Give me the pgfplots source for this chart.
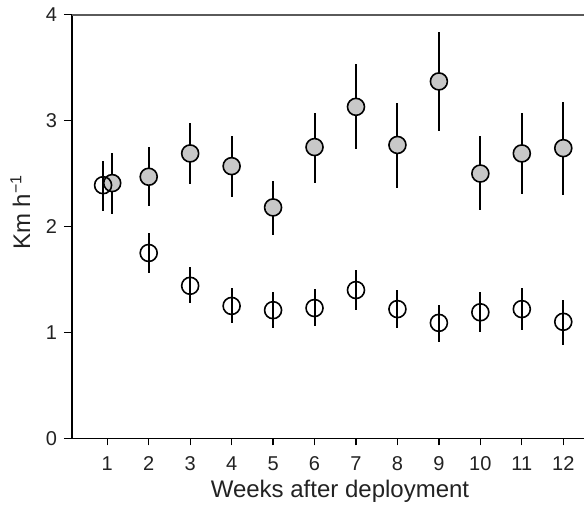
\documentclass[border=0pt]{standalone}
\usepackage{pgfplots}
\pgfplotsset{compat=1.18}
\usepackage{fontspec}
\setmainfont{Liberation Sans}
\definecolor{markfill}{HTML}{C8C8C8}
\definecolor{topline}{HTML}{5A5A5A}
\definecolor{txt}{HTML}{222222}

% week, mean, error plus, error minus
\pgfplotstableread{
x y ep em
1.12 2.41 0.28 0.29
2 2.47 0.28 0.28
3 2.69 0.29 0.29
4 2.57 0.28 0.29
5 2.18 0.25 0.26
6 2.75 0.32 0.34
7 3.13 0.40 0.40
8 2.77 0.40 0.41
9 3.37 0.47 0.47
10 2.50 0.35 0.34
11 2.69 0.38 0.38
12 2.74 0.44 0.44
}\grey
\pgfplotstableread{
x y ep em
0.9 2.39 0.23 0.24
2 1.75 0.19 0.19
3 1.44 0.18 0.16
4 1.25 0.17 0.16
5 1.21 0.17 0.17
6 1.23 0.18 0.17
7 1.40 0.19 0.19
8 1.22 0.18 0.18
9 1.09 0.17 0.18
10 1.19 0.19 0.19
11 1.22 0.20 0.20
12 1.10 0.21 0.22
}\open

\begin{document}
\begin{tikzpicture}
\useasboundingbox (-36pt,-35.35pt) rectangle (256pt,219.15pt);
\begin{axis}[
    scale only axis,
    width=256pt, height=211.8pt,
    xmin=0.15, xmax=12.5,
    ymin=0, ymax=4,
    axis x line=bottom, axis y line=left,
    axis line style={-, line width=0.6pt, black},
    xtick={1,...,12}, ytick={0,1,2,3,4},
    tick align=outside,
    major tick length=4pt,
    tick style={line width=0.6pt, black},
    x tick style={/pgfplots/major tick length=3.5pt},
    tick label style={font=\fontsize{10}{12}\selectfont, text=txt},
    /pgf/number format/assume math mode=true,
    xticklabel style={yshift=-1.5pt},
    xlabel={Weeks after deployment},
    ylabel={Km h\textsuperscript{−1}},
    label style={font=\fontsize{12}{14}\selectfont, text=txt},
    xlabel style={xshift=6pt, yshift=2pt},
    ylabel style={at={(ticklabel cs:0.534)}, yshift=1pt},
    clip=false,
]
\draw[topline, line width=1pt] (rel axis cs:0,1) -- (rel axis cs:1,1);
\addplot[only marks, mark=*, mark size=4.25pt,
    mark options={fill=markfill, draw=black, line width=0.8pt}]
    table[x=x, y=y] {\grey};
\addplot[only marks, mark=o, mark size=4.25pt,
    mark options={draw=black, line width=0.8pt}]
    table[x=x, y=y] {\open};
\addplot[draw=none, mark=none, forget plot,
    error bars/.cd, y dir=both, y explicit, error mark=none,
    error bar style={draw=black, line width=1pt}]
    table[x=x, y=y, y error plus=ep, y error minus=em] {\grey};
\addplot[draw=none, mark=none, forget plot,
    error bars/.cd, y dir=both, y explicit, error mark=none,
    error bar style={draw=black, line width=1pt}]
    table[x=x, y=y, y error plus=ep, y error minus=em] {\open};
\end{axis}
\end{tikzpicture}
\end{document}
